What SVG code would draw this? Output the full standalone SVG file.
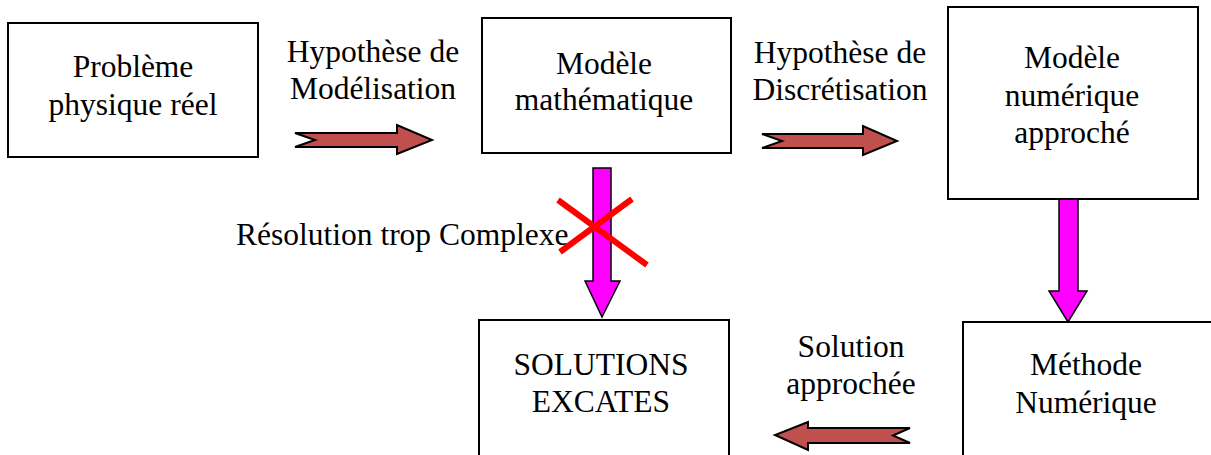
<svg xmlns="http://www.w3.org/2000/svg" width="1211" height="455" viewBox="0 0 1211 455">
<style>
.box{fill:#fff;stroke:#000;stroke-width:2}
.t{font-family:"Liberation Serif","Times New Roman",serif;font-size:31.5px;fill:#000;text-anchor:middle}
.ra{fill:#C0504D;stroke:#000;stroke-width:2;stroke-linejoin:miter}
.ma{fill:#FF00FF;stroke:#000;stroke-width:1.5}
.x{stroke:#FF0000;stroke-width:6;stroke-linecap:butt}
</style>
<rect width="1211" height="455" fill="#fff"/>
<g id="connectors">
<polygon class="ra" points="295,133 397,133 397,125 432,140 397,154 397,147 295,147 315,140"/>
<polygon class="ra" points="762,134 863,134 863,126 897,141 863,155 863,148 762,148 782,141"/>
<polygon class="ra" points="910,428 808,428 808,422 775,435 808,450 808,443 910,443 893,435.5"/>
<polygon class="ma" points="593,168 611,168 611,281 620,281 602,317 585,281 593,281"/>
<polygon class="ma" points="1059,199 1078,199 1078,291 1087,291 1068,322 1049,291 1059,291"/>
<text class="t" x="236" y="245" style="text-anchor:start">Résolution trop Complexe</text>
<line class="x" x1="558" y1="200" x2="647" y2="265"/>
<line class="x" x1="632" y1="199" x2="560" y2="252"/>
<text class="t" x="373" y="62">Hypothèse de</text>
<text class="t" x="373" y="99">Modélisation</text>
<text class="t" x="840" y="63">Hypothèse de</text>
<text class="t" x="840" y="100">Discrétisation</text>
<text class="t" x="851" y="357">Solution</text>
<text class="t" x="851" y="394">approchée</text>
</g>
<g id="n1">
<rect class="box" x="8" y="23" width="250" height="134"/>
<text class="t" x="133" y="77">Problème</text>
<text class="t" x="133" y="115">physique réel</text>
</g>
<g id="n2">
<rect class="box" x="482" y="18" width="249" height="135"/>
<text class="t" x="604" y="74">Modèle</text>
<text class="t" x="604" y="110">mathématique</text>
</g>
<g id="n3">
<rect class="box" x="948" y="7" width="250" height="192"/>
<text class="t" x="1072" y="68">Modèle</text>
<text class="t" x="1072" y="106">numérique</text>
<text class="t" x="1072" y="143">approché</text>
</g>
<g id="n4">
<rect class="box" x="479" y="320" width="250" height="150"/>
<text class="t" x="601" y="375">SOLUTIONS</text>
<text class="t" x="601" y="412">EXCATES</text>
</g>
<g id="n5">
<rect class="box" x="963" y="322" width="270" height="150"/>
<text class="t" x="1086" y="375">Méthode</text>
<text class="t" x="1086" y="413">Numérique</text>
</g>
</svg>
